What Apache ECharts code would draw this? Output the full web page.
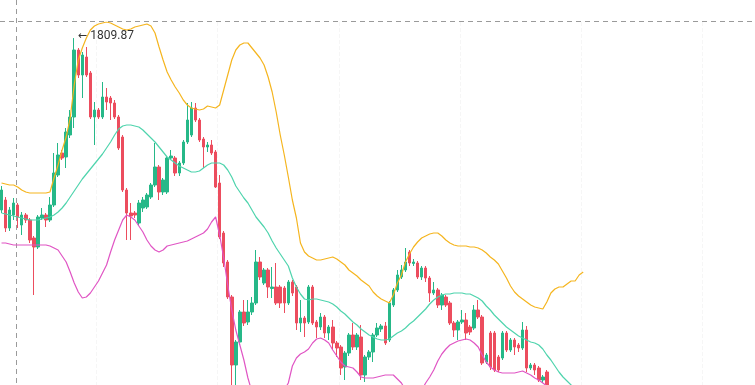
<!DOCTYPE html>
<html>
<head>
<meta charset="utf-8">
<script src="https://cdn.jsdelivr.net/npm/echarts@6/dist/echarts.min.js"></script>
<style>
  html, body { margin: 0; padding: 0; background: #fff; }
  #main { width: 755px; height: 385px; }
</style>
</head>
<body>
<div id="main"></div>
<script>
// [open, close, low, high]
const candles = [
  [1466,1506,1460,1514],[1486,1430,1422,1492],[1430,1466,1424,1472],[1456,1480,1446,1490],
  [1476,1452,1430,1480],[1436,1456,1416,1462],[1456,1446,1440,1460],[1446,1406,1400,1450],
  [1410,1392,1296,1414],[1392,1452,1388,1456],[1450,1456,1446,1470],[1456,1446,1432,1460],
  [1446,1476,1442,1492],[1476,1540,1472,1580],[1536,1576,1532,1600],[1580,1570,1566,1586],
  [1572,1622,1550,1630],[1616,1652,1610,1666],[1652,1786,1630,1809.87],[1786,1736,1730,1790],
  [1736,1776,1690,1782],[1772,1736,1732,1792],[1740,1652,1648,1744],[1652,1666,1596,1682],
  [1666,1652,1648,1670],[1652,1692,1648,1722],[1692,1682,1666,1710],[1690,1680,1646,1694],
  [1680,1652,1648,1686],[1652,1590,1586,1656],[1612,1506,1502,1616],[1506,1460,1406,1510],
  [1460,1454,1406,1480],[1460,1456,1450,1464],[1440,1480,1434,1486],[1470,1486,1462,1492],
  [1472,1496,1468,1500],[1492,1516,1488,1520],[1516,1552,1512,1600],[1552,1502,1486,1556],
  [1502,1526,1496,1530],[1502,1570,1498,1574],[1570,1574,1566,1586],[1570,1540,1534,1574],
  [1540,1560,1534,1564],[1560,1602,1556,1606],[1602,1646,1598,1680],[1616,1670,1612,1682],
  [1670,1646,1642,1680],[1646,1606,1602,1650],[1608,1592,1550,1612],[1592,1596,1582,1602],
  [1596,1580,1576,1606],[1582,1512,1510,1586],[1520,1412,1408,1536],[1420,1360,1352,1424],
  [1362,1292,1288,1366],[1292,1156,1096,1296],[1156,1202,1106,1206],[1202,1262,1196,1266],
  [1262,1240,1234,1286],[1242,1262,1236,1286],[1262,1280,1256,1292],[1280,1362,1276,1386],
  [1362,1332,1326,1372],[1320,1346,1316,1350],[1346,1312,1290,1350],[1309,1312,1290,1352],
  [1312,1280,1276,1360],[1312,1280,1270,1316],[1310,1280,1260,1314],[1280,1322,1276,1326],
  [1322,1300,1294,1326],[1312,1240,1226,1316],[1240,1250,1222,1286],[1250,1240,1212,1254],
  [1242,1312,1238,1316],[1312,1240,1236,1316],[1242,1232,1210,1246],[1232,1252,1226,1260],
  [1252,1220,1210,1256],[1220,1232,1206,1236],[1232,1200,1186,1246],[1200,1190,1172,1204],
  [1192,1150,1136,1196],[1152,1180,1126,1184],[1180,1216,1174,1220],[1216,1192,1186,1240],
  [1192,1216,1186,1220],[1212,1136,1126,1236],[1136,1172,1122,1176],[1172,1182,1166,1186],
  [1182,1216,1162,1220],[1216,1230,1212,1240],[1228,1234,1222,1238],[1234,1200,1196,1242],
  [1206,1280,1202,1284],[1276,1306,1272,1310],[1306,1336,1302,1346],[1332,1346,1328,1356],
  [1346,1362,1342,1390],[1382,1360,1354,1386],[1359,1362,1354,1368],[1360,1332,1328,1364],
  [1332,1350,1326,1354],[1350,1330,1322,1354],[1330,1300,1282,1334],[1300,1306,1296,1322],
  [1306,1276,1270,1310],[1276,1296,1266,1300],[1292,1276,1272,1296],[1280,1240,1236,1284],
  [1240,1226,1212,1244],[1226,1242,1206,1246],[1242,1246,1238,1266],[1246,1220,1206,1260],
  [1232,1222,1216,1236],[1230,1266,1226,1276],[1266,1252,1248,1286],[1252,1160,1156,1256],
  [1162,1176,1158,1180],[1220,1152,1146,1224],[1220,1146,1142,1224],[1172,1146,1142,1176],
  [1170,1220,1166,1224],[1220,1186,1182,1224],[1186,1206,1182,1210],[1206,1192,1176,1210],
  [1196,1190,1182,1200],[1190,1226,1186,1242],[1226,1150,1142,1234],[1150,1156,1146,1160],
  [1156,1146,1136,1160],[1150,1126,1122,1154],[1126,1132,1120,1136],[1142,1102,1094,1146],
  [1102,1076,1066,1110],[1076,1090,1062,1096],[1090,1056,1050,1098],[1062,1036,1026,1066],
  [1038,1056,1030,1062],[1056,1086,1050,1092],[1086,1066,1058,1094],[1070,1096,1064,1102],
  [1090,1102,1086,1108]
];

const upperBand = [
  1520,1518,1516,1516,1512,1506,1502,1500,1500,1500,1500,1500,1502,1530,1556,1586,
  1612,1650,1716,1766,1790,1810,1826,1834,1838,1840,1842,1840,1836,1832,1828,1826,
  1828,1832,1834,1836,1838,1834,1820,1792,1766,1742,1726,1712,1700,1686,1676,1670,
  1668,1666,1668,1674,1672,1670,1676,1706,1736,1766,1786,1796,1800,1800,1790,1780,
  1770,1756,1732,1702,1662,1616,1576,1532,1486,1450,1400,1382,1374,1370,1366,1366,
  1368,1370,1372,1368,1362,1356,1346,1340,1334,1326,1320,1314,1302,1294,1288,1284,
  1280,1296,1320,1336,1362,1378,1392,1402,1410,1414,1418,1420,1420,1414,1406,1400,
  1396,1394,1394,1394,1392,1392,1390,1386,1380,1372,1366,1358,1344,1330,1314,1302,
  1294,1288,1282,1276,1272,1270,1268,1282,1300,1308,1312,1312,1318,1324,1324,1336,
  1342
];

const midBand = [
  1460,1458,1456,1454,1452,1450,1448,1446,1446,1446,1448,1450,1452,1456,1462,1470,
  1480,1492,1504,1516,1528,1538,1548,1558,1568,1578,1590,1602,1616,1628,1634,1636,
  1636,1634,1632,1626,1618,1610,1602,1592,1582,1572,1566,1560,1554,1550,1546,1542,
  1542,1544,1550,1556,1560,1560,1560,1556,1546,1532,1514,1502,1490,1480,1466,1452,
  1442,1432,1420,1404,1390,1378,1366,1354,1330,1312,1298,1288,1286,1288,1288,1286,
  1284,1282,1278,1272,1264,1258,1250,1242,1236,1228,1222,1216,1212,1208,1206,1206,
  1208,1214,1220,1224,1230,1238,1244,1252,1260,1268,1278,1286,1292,1296,1298,1298,
  1300,1300,1300,1298,1298,1294,1290,1284,1274,1266,1256,1248,1240,1232,1226,1220,
  1214,1210,1206,1202,1200,1196,1188,1176,1166,1154,1142,1132,1124,1116,1106,1096,
  1086
];

const lowerBand = [
  1400,1400,1398,1396,1396,1396,1396,1396,1396,1396,1396,1396,1394,1390,1386,1374,
  1362,1342,1320,1302,1290,1292,1300,1312,1324,1340,1356,1382,1406,1426,1446,1456,
  1452,1446,1434,1422,1406,1394,1386,1382,1386,1394,1396,1398,1400,1402,1404,1408,
  1412,1416,1420,1428,1442,1452,1416,1370,1316,1266,1226,1196,1166,1130,1102,1086,
  1070,1062,1058,1062,1076,1090,1106,1120,1154,1170,1178,1182,1188,1200,1208,1210,
  1206,1200,1186,1174,1162,1154,1152,1150,1142,1132,1130,1130,1130,1132,1134,1136,
  1136,1136,1128,1120,1106,1096,1090,1096,1106,1120,1132,1146,1164,1178,1188,1196,
  1200,1204,1206,1208,1206,1200,1192,1176,1162,1152,1146,1142,1140,1140,1140,1140,
  1142,1144,1140,1136,1130,1126,1120,1114,1102,1086,1066,1046,1026,1006,986,970,
  956
];

// day labels (axis is hidden), with empty room on the right
const categories = [];
const firstDay = new Date(2022, 0, 3);
for (let i = 0; i < 190; i++) {
  const d = new Date(firstDay.getTime() + i * 86400000);
  categories.push((d.getMonth() + 1) + '/' + d.getDate());
}

const upColor = '#26b888';
const downColor = '#ec4d5e';

const chart = echarts.init(document.getElementById('main'));
chart.setOption({
  animation: false,
  backgroundColor: '#fff',
  grid: {
    left: -0.5, right: -12, top: 22, bottom: -108,
    outerBoundsMode: 'none',
    containLabel: false
  },
  xAxis: {
    type: 'category',
    data: categories,
    boundaryGap: true,
    axisLine: { show: false },
    axisTick: { show: false },
    axisLabel: { show: false },
    splitLine: {
      show: true,
      interval: (i) => i % 30 === 24,
      lineStyle: { color: '#f6f6f6', type: 'dashed' }
    }
  },
  yAxis: {
    type: 'value',
    min: 900,
    max: 1842,
    axisLine: { show: false },
    axisTick: { show: false },
    axisLabel: { show: false },
    splitLine: { show: false }
  },
  graphic: [
    {
      type: 'line', silent: true, z: -1,
      shape: { x1: 16.5, y1: 0, x2: 16.5, y2: 385 },
      style: { stroke: '#9a9a9a', lineWidth: 1, lineDash: [5, 4] }
    },
    {
      type: 'line', silent: true, z: -1,
      shape: { x1: 0, y1: 21.5, x2: 755, y2: 21.5 },
      style: { stroke: '#9a9a9a', lineWidth: 1, lineDash: [5, 4] }
    }
  ],
  series: [
    {
      name: 'K',
      type: 'candlestick',
      data: candles,
      barWidth: 3,
      itemStyle: {
        color: upColor,
        color0: downColor,
        borderColor: upColor,
        borderColor0: downColor,
        borderWidth: 1
      },
      markPoint: {
        symbol: 'circle',
        symbolSize: 1,
        itemStyle: { color: 'rgba(0,0,0,0)' },
        label: {
          show: true,
          position: 'right',
          distance: 3,
          offset: [0, -2],
          formatter: (p) => '{a|←} {b|' + p.value + '}',
          rich: {
            a: { fontFamily: 'DejaVu Sans', fontSize: 11, color: '#333' },
            b: { fontFamily: 'Roboto', fontSize: 12, color: '#333' }
          }
        },
        data: [{ type: 'max', valueDim: 'highest' }]
      }
    },
    {
      name: 'UP',
      type: 'line',
      data: upperBand,
      symbol: 'none',
      lineStyle: { color: '#f5b51f', width: 1.2 },
      z: 3
    },
    {
      name: 'MB',
      type: 'line',
      data: midBand,
      symbol: 'none',
      lineStyle: { color: '#4fd4ad', width: 1.2 },
      z: 3
    },
    {
      name: 'DN',
      type: 'line',
      data: lowerBand,
      symbol: 'none',
      lineStyle: { color: '#e055c4', width: 1.2 },
      z: 3
    }
  ]
});
</script>
</body>
</html>
